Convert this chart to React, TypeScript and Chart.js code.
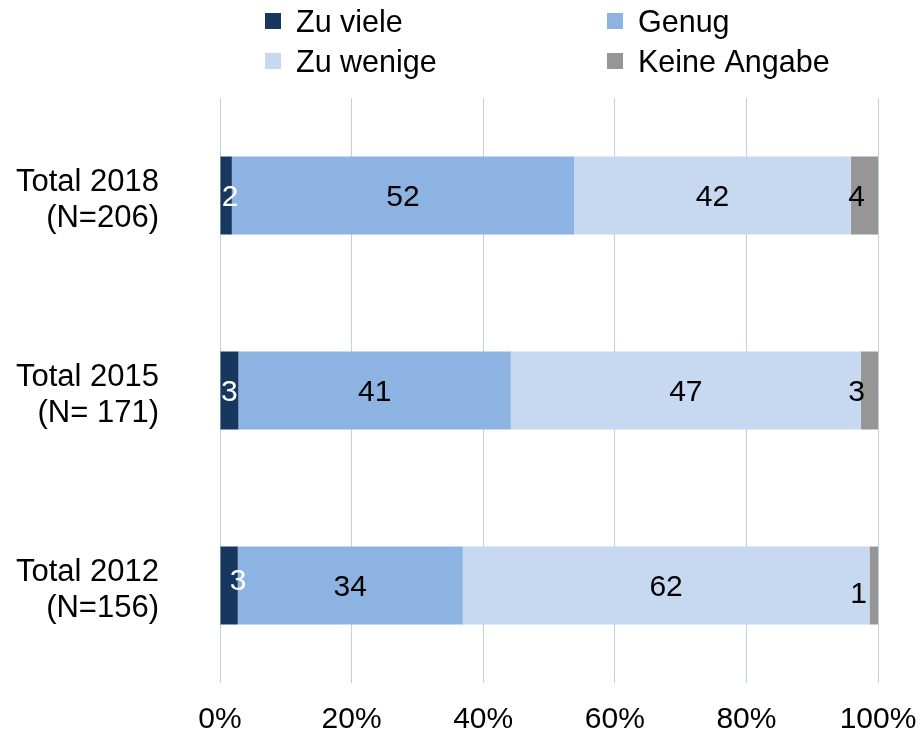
import React, { useEffect, useRef } from "react";
import { Chart, registerables } from "chart.js";

Chart.register(...registerables);

const FONT = "'Liberation Sans', Arial, Helvetica, sans-serif";

// Categories (multi-line tick labels)
const categories: string[][] = [
  ["Total 2018", "(N=206)"],
  ["Total 2015", "(N= 171)"],
  ["Total 2012", "(N=156)"],
];

const seriesNames = ["Zu viele", "Genug", "Zu wenige", "Keine Angabe"];
const seriesColors = ["#17375E", "#8DB3E2", "#C6D9F1", "#969696"];

// Segment sizes (%)
const zuViele = [1.8, 2.8, 2.7];
const genug = [52, 41.4, 34.2];
const zuWenige = [42.1, 53.2, 61.8];
const keineAngabe = [4.1, 2.6, 1.3];

// Printed data labels
const zuVieleLabels = ["2", "3", "3"];
const genugLabels = ["52", "41", "34"];
const zuWenigeLabels = ["42", "47", "62"];
const keineAngabeLabels = ["4", "3", "1"];

const xTicks = [0, 20, 40, 60, 80, 100];

// label styling per series
const labelColors = ["#FFFFFF", "#000000", "#000000", "#000000"];
const labelAnchors = ["center", "center", "center", "end"];
// small manual nudges [dx, dy] per series per category
const labelNudges: number[][][] = [
  [[4, 0], [0, 0], [9, -6]],
  [[0, 0], [0, 0], [0, 0]],
  [[0, 0], [0, 0], [0, 0]],
  [[0, 0], [0, 0], [2, 7]],
];

const LEGEND_X = [265, 607];
const LEGEND_Y = [21, 61];

const legendPlugin = {
  id: "gridLegend",
  afterDraw(chart: any) {
    const ctx = chart.ctx as CanvasRenderingContext2D;
    ctx.save();
    ctx.font = `30.5px ${FONT}`;
    ctx.textAlign = "left";
    ctx.textBaseline = "alphabetic";
    chart.data.datasets.forEach((ds: any, i: number) => {
      const col = i % 2;
      const row = Math.floor(i / 2);
      const x = LEGEND_X[col];
      const y = LEGEND_Y[row];
      ctx.fillStyle = ds.backgroundColor;
      ctx.fillRect(x, y - 8, 16, 16);
      ctx.fillStyle = "#000000";
      ctx.fillText(ds.label, x + 31, y + 11);
    });
    ctx.restore();
  },
};

const labelPlugin = {
  id: "segmentLabels",
  afterDatasetsDraw(chart: any) {
    const ctx = chart.ctx as CanvasRenderingContext2D;
    ctx.save();
    ctx.font = `30px ${FONT}`;
    ctx.textBaseline = "middle";
    chart.data.datasets.forEach((ds: any, di: number) => {
      const meta = chart.getDatasetMeta(di);
      meta.data.forEach((bar: any, i: number) => {
        const text = ds.segmentLabels[i];
        const [dx, dy] = labelNudges[di][i];
        const left = Math.min(bar.x, bar.base);
        const right = Math.max(bar.x, bar.base);
        const ty = bar.y + 2 + dy;
        ctx.fillStyle = labelColors[di];
        if (labelAnchors[di] === "end") {
          ctx.textAlign = "right";
          ctx.fillText(text, right - 13 + dx, ty);
        } else {
          ctx.textAlign = "center";
          ctx.fillText(text, (left + right) / 2 + dx, ty);
        }
      });
    });
    ctx.restore();
  },
};

export default function App() {
  const canvasRef = useRef<HTMLCanvasElement | null>(null);

  useEffect(() => {
    document.body.style.margin = "0";
    const canvas = canvasRef.current;
    if (!canvas) return;
    const values = [zuViele, genug, zuWenige, keineAngabe];
    const labels = [zuVieleLabels, genugLabels, zuWenigeLabels, keineAngabeLabels];
    const chart = new Chart(canvas, {
      type: "bar",
      data: {
        labels: categories as any,
        datasets: seriesNames.map((name, i) => ({
          label: name,
          data: values[i],
          backgroundColor: seriesColors[i],
          borderWidth: 0,
          categoryPercentage: 1,
          barPercentage: 0.4,
          segmentLabels: labels[i],
        })) as any,
      },
      options: {
        indexAxis: "y",
        responsive: false,
        animation: false,
        layout: { padding: { top: 98, right: 42, left: 0, bottom: 0 } },
        plugins: {
          legend: { display: false },
          tooltip: { enabled: false },
        },
        scales: {
          x: {
            stacked: true,
            min: 0,
            max: 100,
            afterBuildTicks(scale: any) {
              scale.ticks = xTicks.map((v) => ({ value: v }));
            },
            afterFit(scale: any) {
              scale.height = 51;
              scale.paddingLeft = 0;
              scale.paddingRight = 0;
              scale.paddingTop = 0;
              scale.paddingBottom = 0;
            },
            grid: { color: "#BFD1DE", lineWidth: 1, drawTicks: false },
            border: { display: false },
            ticks: {
              padding: 19,
              color: "#000000",
              font: { family: FONT, size: 30 },
              callback: (v: any) => `${v}%`,
              maxRotation: 0,
              autoSkip: false,
            },
          },
          y: {
            stacked: true,
            afterFit(scale: any) {
              scale.width = 220;
              scale.paddingLeft = 0;
              scale.paddingRight = 0;
              scale.paddingTop = 0;
              scale.paddingBottom = 0;
            },
            grid: { display: false, drawTicks: false },
            border: { display: false },
            ticks: {
              padding: 61,
              labelOffset: 5,
              color: "#000000",
              font: { family: FONT, size: 31, lineHeight: 1.19 },
            },
          },
        },
      } as any,
      plugins: [legendPlugin, labelPlugin],
    });
    return () => chart.destroy();
  }, []);

  return (
    <div style={{ position: "absolute", left: 0, top: 0, width: 920, height: 734 }}>
      <canvas ref={canvasRef} width={920} height={734} />
    </div>
  );
}
